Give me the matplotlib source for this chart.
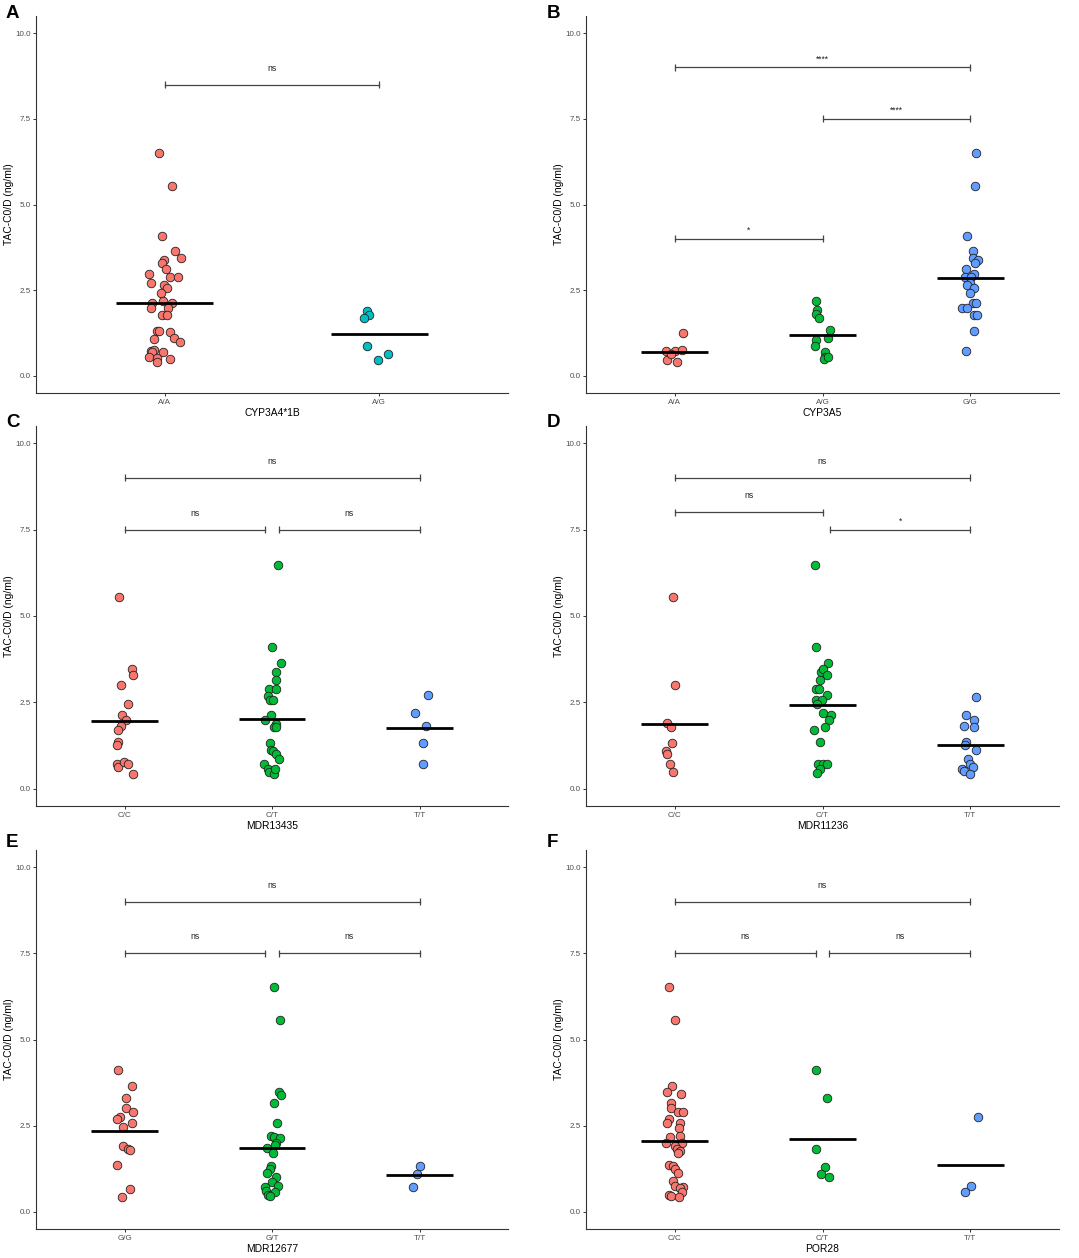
import matplotlib
matplotlib.use('Agg')
import matplotlib.pyplot as plt

plt.rcParams['font.family'] = ['Liberation Sans', 'DejaVu Sans']

YLABEL = 'TAC-C0/D (ng/ml)'
RED, CYAN, GREEN, BLUE = '#F8766D', '#00BFC4', '#00BA38', '#619CFF'

# ---- panel A: CYP3A4*1B ----
A_GROUPS = ['A/A', 'A/G']
A_AA = [6.49, 5.54, 4.09, 3.64, 3.45, 3.39, 3.29, 3.13, 2.98, 2.89, 2.89, 2.71, 2.65, 2.57, 2.43, 2.14, 2.19, 2.12,
        1.98, 1.98, 1.79, 1.77, 1.31, 1.32, 1.29, 1.08, 1.10, 1.00, 0.74, 0.76, 0.71, 0.70, 0.56, 0.52, 0.49, 0.41]
A_AA_JIT = [-0.025, 0.034, -0.011, 0.046, 0.074, -0.002, -0.014, 0.006, -0.071, 0.023, 0.062, -0.062, -0.002, 0.011,
            -0.019, -0.059, -0.006, 0.034, -0.062, 0.017, -0.014, 0.009, -0.036, -0.025, 0.026, -0.051, 0.042, 0.073,
            -0.066, -0.051, -0.009, -0.057, -0.071, -0.036, 0.023, -0.037]
A_AG = [1.88, 1.78, 1.70, 0.87, 0.64, 0.45]
A_AG_JIT = [-0.059, -0.049, -0.073, -0.059, 0.040, -0.005]
A_CENTER = [2.12, 1.23]
A_BRACKETS = [(1, 2, 8.5, 'ns')]

# ---- panel B: CYP3A5 ----
B_GROUPS = ['A/A', 'A/G', 'G/G']
B_AA = [1.25, 0.73, 0.73, 0.76, 0.45, 0.41, 0.64]
B_AA_JIT = [0.059, -0.056, 0.005, 0.05, -0.05, 0.016, -0.022]
B_AG = [2.19, 1.91, 1.81, 1.70, 1.34, 1.10, 1.05, 0.86, 0.71, 0.56, 0.50, 0.56]
B_AG_JIT = [-0.047, -0.038, -0.043, -0.023, 0.05, 0.034, -0.047, -0.054, 0.016, 0.02, 0.007, 0.038]
B_GG = [6.49, 5.54, 4.09, 3.64, 3.45, 3.39, 3.29, 3.13, 2.98, 2.89, 2.89, 2.71, 2.65, 2.57, 2.43, 2.12, 2.14, 1.98,
        1.98, 1.79, 1.77, 1.32, 0.72]
B_GG_JIT = [0.036, 0.029, -0.025, 0.016, 0.018, 0.05, 0.034, -0.027, 0.023, -0.034, 0.007, -0.002, -0.023, 0.023,
            -0.002, 0.016, 0.036, -0.054, -0.023, 0.023, 0.045, 0.023, -0.032]
B_CENTER = [0.71, 1.19, 2.86]
B_BRACKETS = [(1, 2, 4.0, '*'), (2, 3, 7.5, '****'), (1, 3, 9.0, '****')]

# ---- panel C: MDR13435 ----
C_GROUPS = ['C/C', 'C/T', 'T/T']
C_CC = [5.55, 3.46, 3.29, 3.00, 2.44, 2.14, 2.00, 1.83, 1.71, 1.35, 1.26, 0.73, 0.63, 0.76, 0.71, 0.42]
C_CC_JIT = [-0.034, 0.052, 0.059, -0.027, 0.023, -0.016, 0.009, -0.027, -0.043, -0.043, -0.054, -0.054, -0.045,
            -0.005, 0.027, 0.056]
C_CT = [6.49, 4.09, 3.64, 3.39, 3.14, 2.90, 2.90, 2.67, 2.58, 2.56, 2.14, 2.00, 1.88, 1.78, 1.78, 1.33, 1.11, 1.08,
        1.01, 0.87, 0.72, 0.58, 0.48, 0.44, 0.56]
C_CT_JIT = [0.038, -0.002, 0.059, 0.025, 0.025, -0.02, 0.025, -0.027, -0.011, 0.007, -0.005, -0.047, 0.029, 0.011,
            0.025, -0.016, -0.005, 0.007, 0.025, 0.05, -0.056, -0.029, -0.02, 0.011, 0.02]
C_TT = [2.72, 2.19, 1.83, 1.31, 0.73]
C_TT_JIT = [0.056, -0.029, 0.045, 0.025, 0.022]
C_CENTER = [1.95, 2.03, 1.76]
C_BRACKETS = [(1, 1.953, 7.5, 'ns'), (2.047, 3, 7.5, 'ns'), (1, 3, 9.0, 'ns')]

# ---- panel D: MDR11236 ----
D_GROUPS = ['C/C', 'C/T', 'T/T']
D_CC = [5.55, 3.00, 1.89, 1.78, 1.31, 1.09, 1.01, 0.72, 0.49]
D_CC_JIT = [-0.011, 0.0, -0.052, -0.025, -0.016, -0.056, -0.052, -0.032, -0.009]
D_CT = [6.49, 4.09, 3.64, 3.39, 3.46, 3.29, 3.14, 2.90, 2.90, 2.72, 2.58, 2.58, 2.44, 2.19, 2.13, 2.00, 1.78, 1.71,
        1.35, 0.73, 0.71, 0.73, 0.57, 0.45]
D_CT_JIT = [-0.054, -0.047, 0.036, -0.009, 0.002, 0.032, -0.016, -0.047, -0.025, 0.029, -0.047, -0.002, -0.038, 0.0,
            0.056, 0.043, 0.018, -0.059, -0.016, -0.029, 0.005, 0.032, -0.018, -0.034]
D_TT = [2.66, 2.14, 2.00, 1.83, 1.80, 1.34, 1.26, 1.11, 0.87, 0.73, 0.64, 0.58, 0.51, 0.42]
D_TT_JIT = [0.041, -0.032, 0.027, -0.041, 0.027, -0.029, -0.036, 0.038, -0.016, -0.005, 0.018, -0.056, -0.041, -0.002]
D_CENTER = [1.87, 2.42, 1.28]
D_BRACKETS = [(1, 2, 8.0, 'ns'), (2.05, 3, 7.5, '*'), (1, 3, 9.0, 'ns')]

# ---- panel E: MDR12677 ----
E_GROUPS = ['G/G', 'G/T', 'T/T']
E_GG = [4.11, 3.65, 3.30, 3.00, 2.90, 2.74, 2.68, 2.57, 2.46, 1.91, 1.81, 1.79, 1.36, 0.65, 0.42]
E_GG_JIT = [-0.045, 0.05, 0.009, 0.009, 0.056, -0.029, -0.052, 0.052, -0.009, -0.007, 0.027, 0.034, -0.054, 0.034,
            -0.016]
E_GT = [6.51, 5.56, 3.48, 3.39, 3.15, 2.58, 2.21, 2.16, 2.13, 2.00, 1.94, 1.85, 1.72, 1.32, 1.24, 1.12, 1.02, 0.87,
        0.72, 0.74, 0.60, 0.58, 0.50, 0.45]
E_GT_JIT = [0.014, 0.054, 0.045, 0.059, 0.014, 0.032, -0.005, 0.014, 0.054, 0.029, 0.02, -0.032, 0.007, -0.007,
            -0.014, -0.034, 0.029, -0.002, -0.05, 0.041, -0.038, 0.018, -0.029, -0.016]
E_TT = [1.34, 1.10, 0.72]
E_TT_JIT = [0.005, -0.02, -0.047]
E_CENTER = [2.35, 1.86, 1.06]
E_BRACKETS = [(1, 1.953, 7.5, 'ns'), (2.047, 3, 7.5, 'ns'), (1, 3, 9.0, 'ns')]

# ---- panel F: POR28 ----
F_GROUPS = ['C/C', 'C/T', 'T/T']
F_CC = [6.51, 5.56, 3.65, 3.48, 3.41, 3.15, 3.00, 2.90, 2.90, 2.68, 2.58, 2.57, 2.44, 2.16, 2.20, 2.00, 2.00, 1.92,
        1.81, 1.75, 1.71, 1.37, 1.34, 1.23, 1.12, 0.88, 0.74, 0.72, 0.70, 0.58, 0.50, 0.47, 0.42]
F_CC_JIT = [-0.036, 0.002, -0.018, -0.05, 0.045, -0.023, -0.023, 0.025, 0.054, -0.041, -0.05, 0.036, 0.029, -0.032,
            0.034, -0.056, 0.047, 0.0, 0.016, 0.036, 0.025, -0.038, -0.014, 0.005, 0.025, -0.014, 0.0, 0.056, 0.034,
            0.05, -0.038, -0.027, 0.032]
F_CT = [4.11, 3.30, 1.81, 1.31, 1.10, 1.02]
F_CT_JIT = [-0.047, 0.029, -0.047, 0.014, -0.009, 0.045]
F_TT = [2.74, 0.74, 0.58]
F_TT_JIT = [0.054, 0.005, -0.034]
F_CENTER = [2.05, 2.12, 1.35]
F_BRACKETS = [(1, 1.953, 7.5, 'ns'), (2.047, 3, 7.5, 'ns'), (1, 3, 9.0, 'ns')]

PANELS = [
    ('A', 'CYP3A4*1B', A_GROUPS, [(A_AA, A_AA_JIT), (A_AG, A_AG_JIT)], A_CENTER, A_BRACKETS, [RED, CYAN]),
    ('B', 'CYP3A5', B_GROUPS, [(B_AA, B_AA_JIT), (B_AG, B_AG_JIT), (B_GG, B_GG_JIT)], B_CENTER, B_BRACKETS,
     [RED, GREEN, BLUE]),
    ('C', 'MDR13435', C_GROUPS, [(C_CC, C_CC_JIT), (C_CT, C_CT_JIT), (C_TT, C_TT_JIT)], C_CENTER, C_BRACKETS,
     [RED, GREEN, BLUE]),
    ('D', 'MDR11236', D_GROUPS, [(D_CC, D_CC_JIT), (D_CT, D_CT_JIT), (D_TT, D_TT_JIT)], D_CENTER, D_BRACKETS,
     [RED, GREEN, BLUE]),
    ('E', 'MDR12677', E_GROUPS, [(E_GG, E_GG_JIT), (E_GT, E_GT_JIT), (E_TT, E_TT_JIT)], E_CENTER, E_BRACKETS,
     [RED, GREEN, BLUE]),
    ('F', 'POR28', F_GROUPS, [(F_CC, F_CC_JIT), (F_CT, F_CT_JIT), (F_TT, F_TT_JIT)], F_CENTER, F_BRACKETS,
     [RED, GREEN, BLUE]),
]

W, H = 1079, 1258
fig = plt.figure(figsize=(W / 100, H / 100), dpi=100)

# axes boxes in pixels: left, right, top, bottom
cols = [(36, 508), (586, 1059)]
rows = [(16, 393), (426, 806), (850, 1229)]
letter_pos = [(6, 18), (547, 18), (6, 427), (547, 427), (6, 847), (547, 847)]

for i, (letter, xtitle, groups, series, centers, brackets, colors) in enumerate(PANELS):
    l, r = cols[i % 2]
    t, b = rows[i // 2]
    ax = fig.add_axes([l / W, (H - b) / H, (r - l) / W, (b - t) / H])

    for k, ((vals, jit), col) in enumerate(zip(series, colors)):
        xs = [k + 1 + j for j in jit]
        ax.scatter(xs, vals, s=38, c=col, edgecolors='#222222', linewidths=0.6, zorder=3)
        ax.hlines(centers[k], k + 1 - 0.225, k + 1 + 0.225, colors='black', linewidth=2.0, zorder=4)

    tick_h = 0.1
    for x1, x2, y, lab in brackets:
        ax.plot([x1, x2], [y, y], color='#444444', lw=0.9, zorder=5)
        ax.vlines([x1, x2], y - tick_h, y + tick_h, colors='#444444', lw=0.9, zorder=5)
        off = 0.48 if lab == 'ns' else 0.25
        ax.text((x1 + x2) / 2, y + off, lab, ha='center', va='center', fontsize=6.2, color='#222222')

    n = len(groups)
    ax.set_xlim(0.4, n + 0.6)
    ax.set_ylim(-0.5, 10.5)
    ax.set_xticks(range(1, n + 1))
    ax.set_xticklabels(groups)
    ax.set_yticks([0, 2.5, 5.0, 7.5, 10.0])
    ax.set_yticklabels(['0.0', '2.5', '5.0', '7.5', '10.0'])
    ax.tick_params(labelsize=5.8, labelcolor='#4D4D4D', color='#333333', length=2.5, width=0.7, pad=1.5)
    for side in ['top', 'right']:
        ax.spines[side].set_visible(False)
    for side in ['left', 'bottom']:
        ax.spines[side].set_color('#333333')
        ax.spines[side].set_linewidth(0.8)
    ax.set_xlabel(xtitle, fontsize=7.4, labelpad=1.5, color='black')
    ax.set_ylabel(YLABEL, fontsize=7.4, labelpad=1, color='black')

    lx, ly = letter_pos[i]
    fig.text(lx / W, (H - ly) / H, letter, fontsize=13.5, fontweight='bold', ha='left', va='baseline')

fig.savefig('out.png', dpi=100)
